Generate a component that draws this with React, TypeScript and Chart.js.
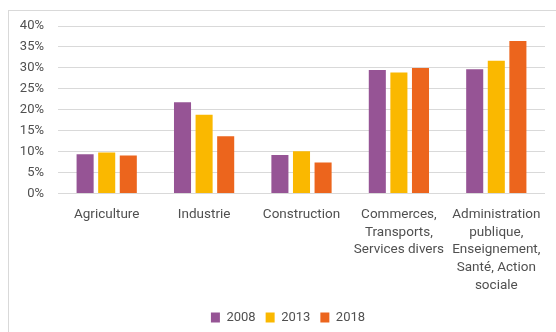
import React, { useEffect, useRef } from 'react';
import { Chart, registerables } from 'chart.js';

Chart.register(...registerables);

const categories: (string | string[])[] = [
  'Agriculture',
  'Industrie',
  'Construction',
  ['Commerces,', 'Transports,', 'Services divers'],
  ['Administration', 'publique,', 'Enseignement,', 'Santé, Action', 'sociale'],
];

const years = ['2008', '2013', '2018'];
const values2008 = [9.4, 21.8, 9.2, 29.5, 29.7];
const values2013 = [9.8, 18.8, 10.1, 28.9, 31.7];
const values2018 = [9.1, 13.7, 7.4, 30.0, 36.4];
const seriesColors = ['#965495', '#FAB800', '#EC651D'];

const yMin = 0;
const yMax = 40;
const yStep = 5;

const textColor = '#505050';
const gridColor = '#d9d9d9';
const fontFamily = 'Roboto, "Noto Sans", sans-serif';

const legendShift = {
  id: 'legendShift',
  afterLayout(chart: any) {
    const lg = chart.legend;
    if (lg) {
      lg.left += 11;
      lg.right += 11;
    }
  },
};

export default function App() {
  const ref = useRef<HTMLCanvasElement>(null);

  useEffect(() => {
    if (!ref.current) return;
    const series = [values2008, values2013, values2018];
    const chart = new Chart(ref.current, {
      type: 'bar',
      data: {
        labels: categories,
        datasets: years.map((y, i) => ({
          label: y,
          data: series[i],
          backgroundColor: seriesColors[i],
          borderWidth: 0,
          categoryPercentage: 0.665,
          barPercentage: 0.79,
        })),
      },
      plugins: [legendShift],
      options: {
        animation: false,
        responsive: false,
        maintainAspectRatio: false,
        devicePixelRatio: 1,
        layout: { padding: { top: 15, right: 11, left: 0, bottom: 0 } },
        plugins: {
          legend: {
            position: 'bottom',
            labels: {
              boxWidth: 9,
              boxHeight: 10,
              padding: 10,
              color: textColor,
              font: { family: fontFamily, size: 13 },
            },
          },
          tooltip: { enabled: false },
        },
        scales: {
          x: {
            grid: { display: false, drawTicks: false },
            border: { display: false },
            ticks: {
              padding: 12,
              color: textColor,
              font: { family: fontFamily, size: 13.5, lineHeight: 1.32 },
              maxRotation: 0,
              autoSkip: false,
            },
            afterFit: (s: any) => {
              s.height = 107.5;
            },
          },
          y: {
            min: yMin,
            max: yMax,
            ticks: {
              stepSize: yStep,
              padding: 7,
              color: textColor,
              font: { family: fontFamily, size: 13 },
              callback: (v: any) => v + '%',
            },
            grid: {
              color: gridColor,
              drawTicks: true,
              tickLength: 7,
              tickColor: 'rgba(0,0,0,0)',
              lineWidth: 1,
            },
            border: { display: false },
            afterFit: (s: any) => {
              s.width = 49;
            },
          },
        },
      },
    });
    return () => chart.destroy();
  }, []);

  return (
    <div
      style={{
        position: 'fixed',
        left: 8,
        top: 10,
        width: 548,
        height: 322,
        borderTop: '1px solid #d9d9d9',
        borderLeft: '1px solid #d9d9d9',
        overflow: 'hidden',
        background: '#fff',
      }}
    >
      <canvas ref={ref} width={547} height={323} style={{ display: 'block' }} />
    </div>
  );
}
